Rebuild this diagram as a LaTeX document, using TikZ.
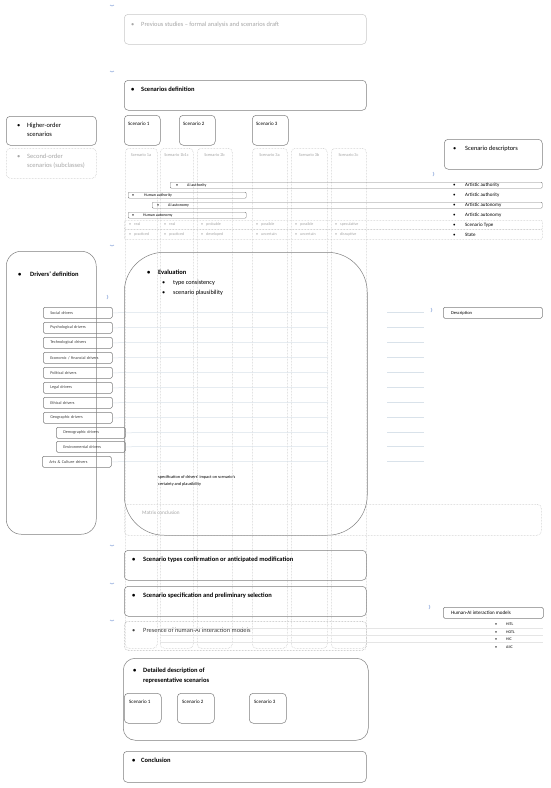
\documentclass[tikz,border=0pt]{standalone}
\usepackage{fontspec}
\setmainfont{Carlito}
\usetikzlibrary{positioning}
\newcommand{\fsz}[1]{\fontsize{#1}{#1}\selectfont}
\newcommand{\bul}[1]{\makebox[#1pt][l]{\textbullet}}

\begin{document}
\begin{tikzpicture}[x=1pt,y=-1pt,
  box/.style={draw=bordr,rounded corners=4pt,anchor=north west,inner sep=0pt,line width=0.5pt},
  litebox/.style={box,draw=lightb},
  dotbox/.style={box,draw=dotc,densely dotted},
  colbox/.style={dotbox,minimum height=500},
  barbox/.style={box,rounded corners=1pt,minimum height=6,line width=0.4pt},
  drvbox/.style={box,rounded corners=1.5pt,minimum height=11,inner xsep=7pt,align=left,font=\fsz{4.2},text=black!75},
  txt/.style={anchor=base west,inner sep=0pt,font=\fsz{6.4}},
  head/.style={txt,font=\fsz{6.5}\bfseries},
  small/.style={txt,font=\fsz{4}},
  subtxt/.style={inner sep=0pt,font=\fsz{4.3},text=gtxt},
  faintline/.style={draw=faint,line width=0.5pt},
  chev/.style={draw=chevc,line width=0.6pt}
]
\definecolor{bordr}{HTML}{7F7F7F}
\definecolor{lightb}{HTML}{C8C8C8}
\definecolor{dotc}{HTML}{BFBFBF}
\definecolor{gtxt}{HTML}{A6A6A6}
\definecolor{faint}{HTML}{D9E2EA}
\definecolor{chevc}{HTML}{8FAADC}

\useasboundingbox[fill=white] (0,0) rectangle (550,788);

% small blue marks
\foreach \y in {5,71,245,545,583,620} {\draw[chev] (110,\y) -- (112,\y+1) -- (114,\y);}
\foreach \x/\y in {107/297,431/310,433/174,429/607} {\draw[chev] (\x,\y-2) -- (\x+1,\y) -- (\x,\y+2);}

% top steps
\node[litebox,minimum width=242,minimum height=30] (prev) at (124,14) {};
\node[txt,text=gtxt] (prevt) at (131,26.5) {\bul{10}Previous studies – formal analysis and scenarios draft};
\node[box,minimum width=242,minimum height=30] (sdef) at (124,80) {};
\node[head] (sdeft) at (131,91) {\bul{10}Scenarios definition};

% higher-order scenarios
\foreach \s/\x in {1/124,2/179,3/252} {
  \node[box,minimum width=36,minimum height=30] (sc\s) at (\x,115) {};
  \node[txt,font=\fsz{5}] (sc\s t) at (\x+4,125) {Scenario \s};
}
\node[box,minimum width=90,minimum height=29] (higher) at (6,116) {};
\node[anchor=west,inner sep=0pt,align=left,font=\fontsize{6.5}{9}\selectfont] (highert) at (17,129.5)
  {\bul{10}Higher-order\\\hspace*{10pt}scenarios};
\node[dotbox,minimum width=90,minimum height=30] (second) at (6,148) {};
\node[anchor=west,inner sep=0pt,align=left,text=gtxt,font=\fontsize{6.5}{9}\selectfont] (secondt) at (17,161.5)
  {\bul{10}Second-order\\\hspace*{10pt}scenarios (subclasses)};

% second-order columns
\foreach \c/\x/\w/\t in {1a/125/32/Scenario 1a,1b/160/33/Scenario 1b1c,2b/197/35/Scenario 2b,
                         3a/252/35/Scenario 3a,3b/291/36/Scenario 3b,3c/331/35/Scenario 3c} {
  \node[colbox,minimum width=\w] (col\c) at (\x,148) {};
  \node[subtxt] (lab\c) at (\x+\w/2,155) {\t};
}

% scenario descriptors
\node[box,minimum width=98,minimum height=30] (desc) at (444,139) {};
\node[txt] (desct) at (453,150) {\bul{12}Scenario descriptors};
\node[barbox,minimum width=372] (aiauth) at (170,182) {};
\node[barbox,minimum width=118] (huauth) at (128,192) {};
\node[barbox,minimum width=390] (aiaut) at (152,202) {};
\node[barbox,minimum width=118] (huaut) at (128,212) {};
\node[small] (aiautht) at (176,186.5) {\bul{11}AI authority};
\node[small] (huautht) at (132,196.5) {\bul{12}Human authority};
\node[small] (aiautt) at (157,206.5) {\bul{11}AI autonomy};
\node[small] (huautt) at (132,216.5) {\bul{11}Human autonomy};
\node[dotbox,rounded corners=1pt,minimum width=418,minimum height=9] (typerow) at (124,220) {};
\node[dotbox,rounded corners=1pt,minimum width=418,minimum height=10] (staterow) at (124,229) {};
\foreach \c/\x/\a/\b in {1a/125/real/practiced,1b/160/real/practiced,2b/197/probable/developed,
                         3a/252/possible/uncertain,3b/291/possible/uncertain,3c/331/speculative/disruptive} {
  \node[small,text=gtxt] (ty\c) at (\x+4,225.5) {\bul{5}\a};
  \node[small,text=gtxt] (st\c) at (\x+4,235.5) {\bul{5}\b};
}
\foreach \i/\y/\t in {1/186.5/Artistic authority,2/196.5/Artistic authority,3/206/Artistic autonomy,
                      4/216.5/Artistic autonomy,5/226/Scenario Type,6/236.5/State} {
  \node[txt,font=\fsz{5}] (dl\i) at (453,\y) {\bul{12}\t};
}

% drivers
\node[box,rounded corners=15pt,minimum width=90,minimum height=283] (drvdef) at (6,251) {};
\node[head] (drvdeft) at (18,276) {\bul{12}Drivers' definition};
\foreach \i/\x/\y/\t in {1/43/307/Social drivers,2/43/322/Psychological drivers,3/43/337/Technological drivers,
                         4/43/352/{Economic / financial drivers},5/43/367/Political drivers,6/43/382/Legal drivers,
                         7/43/397/Ethical drivers,8/43/412/Geographic drivers,9/56/427/Demographic drivers,
                         10/56/441/Environmental drivers,11/42/456/Arts \& Culture drivers} {
  \node[drvbox,text width=55] (drv\i) at (\x,\y) {\t};
  \coordinate (la\i) at (328,\y+5.5);
  \coordinate (lb\i) at (387,\y+5.5);
  \coordinate (lc\i) at (424,\y+5.5);
  \draw[faintline] (drv\i.east) -- (la\i);
  \draw[faintline] (lb\i) -- (lc\i);
}
\node[box,rounded corners=1.5pt,minimum width=99,minimum height=11] (descr) at (443,307) {};
\node[txt,font=\fsz{4.5}] (descrt) at (451,314) {Description};

% evaluation
\node[box,rounded corners=40pt,minimum width=243,minimum height=283] (eval) at (124,252) {};
\node[head] (evalt) at (147,274) {\bul{11}Evaluation};
\node[txt,font=\fsz{6.2}] (ev1) at (162,284) {\bul{11}type consistency};
\node[txt,font=\fsz{6.2}] (ev2) at (162,294) {\bul{11}scenario plausibility};
\node[anchor=west,inner sep=0pt,align=left,font=\fontsize{4.3}{7}\selectfont] (spect) at (158,481)
  {specification of drivers' impact on scenario's\\certainty and plausibility};
\node[dotbox,minimum width=417,minimum height=31] (matrix) at (124,504) {};
\node[txt,font=\fsz{5.2},text=gtxt] (matrixt) at (142,514) {Matrix conclusion};

% lower steps
\node[box,minimum width=242,minimum height=30] (confirm) at (124,550) {};
\node[head] (confirmt) at (132,561) {\bul{11}Scenario types confirmation or anticipated modification};
\node[box,minimum width=242,minimum height=30] (select) at (124,586) {};
\node[head] (selectt) at (132,597) {\bul{11}Scenario specification and preliminary selection};
\node[dotbox,draw=black!40,minimum width=242,minimum height=29] (presence) at (124,621) {};
\node[txt,text=black!75] (presencet) at (132,632) {\bul{11}Presence of human-AI interaction models};

% interaction models
\node[box,rounded corners=1.5pt,minimum width=100,minimum height=11] (hai) at (443,607) {};
\node[txt,font=\fsz{5}] (hait) at (451,614) {Human-AI interaction models};
\foreach \i/\y in {1/628.5,2/635.5,3/642.5} {
  \coordinate (ra\i) at (160,\y);
  \coordinate (rb\i) at (543,\y);
  \draw[faintline,draw=black!10] (ra\i) -- (rb\i);
}
\foreach \i/\y/\t in {1/625.5/HITL,2/633/HOTL,3/640.5/HIC,4/648/AIIC} {
  \node[small] (hm\i) at (495,\y) {\bul{11}\t};
}

% detailed description
\node[box,rounded corners=12pt,minimum width=245,minimum height=82] (detail) at (123,658) {};
\node[anchor=north west,inner sep=0pt,align=left,font=\fontsize{6.5}{10}\selectfont\bfseries] (detailt) at (133,668)
  {\bul{10}Detailed description of\\\hspace*{10pt}representative scenarios};
\foreach \s/\x in {1/124,2/177,3/249} {
  \node[box,minimum width=37,minimum height=30] (ds\s) at (\x,693) {};
  \node[txt,font=\fsz{5}] (ds\s t) at (\x+5,703) {Scenario \s};
}
\node[box,minimum width=243,minimum height=31] (concl) at (123,751) {};
\node[head] (conclt) at (132,762) {\bul{9}Conclusion};

\end{tikzpicture}
\end{document}
